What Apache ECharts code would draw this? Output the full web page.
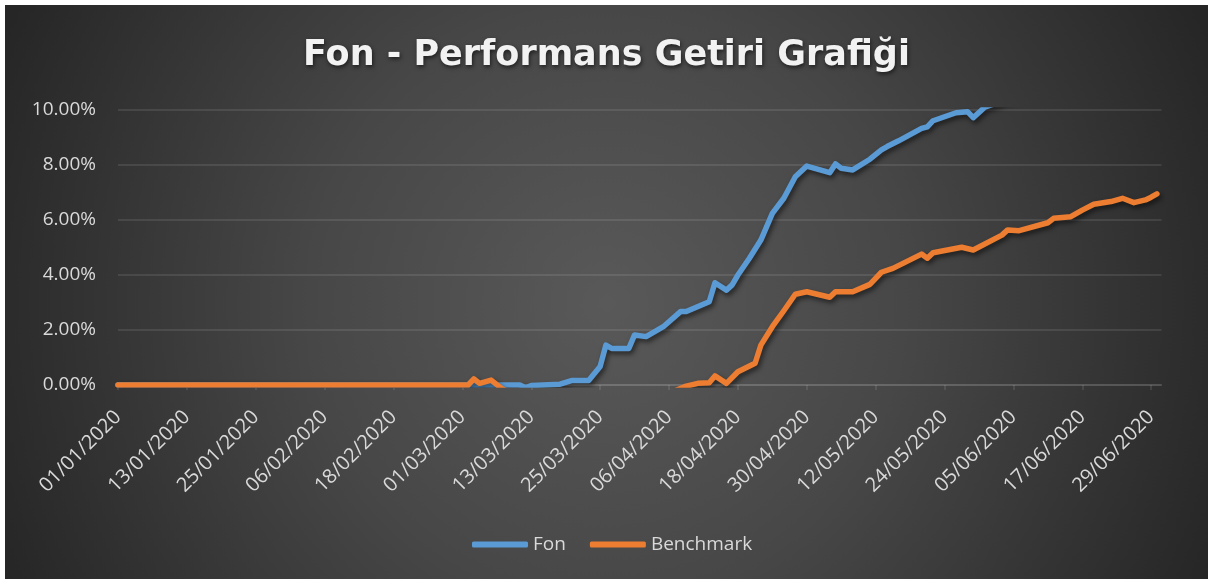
<!DOCTYPE html>
<html>
<head>
<meta charset="utf-8">
<script src="https://cdn.jsdelivr.net/npm/echarts@6/dist/echarts.min.js"></script>
<style>
    html, body { margin: 0; padding: 0; background: #ffffff; }
    #chart {
        position: absolute;
        left: 5px;
        top: 5px;
        width: 1203px;
        height: 574px;
        background: radial-gradient(circle 660px at 50% 52%, #595959 0%, #474747 45%, #262626 100%);
    }
</style>
</head>
<body>
<div id="chart"></div>
<script>
// x ekseni etiketleri (her 12 gunde bir)
var tickLabels = ['01/01/2020', '13/01/2020', '25/01/2020', '06/02/2020', '18/02/2020', '01/03/2020',
    '13/03/2020', '25/03/2020', '06/04/2020', '18/04/2020', '30/04/2020', '12/05/2020',
    '24/05/2020', '05/06/2020', '17/06/2020', '29/06/2020'];

// Fon getirisi (%)
var fonDates = ['01/01', '08/03', '11/03', '12/03', '13/03', '18/03', '20/03', '23/03', '25/03', '26/03',
    '27/03', '30/03', '31/03', '02/04', '05/04', '08/04', '09/04', '13/04', '14/04', '16/04',
    '17/04', '18/04', '20/04', '22/04', '24/04', '26/04', '28/04', '30/04', '04/05', '05/05',
    '06/05', '08/05', '11/05', '13/05', '14/05', '16/05', '20/05', '21/05', '22/05', '26/05',
    '28/05', '29/05', '31/05', '04/06', '11/06', '19/06', '30/06'];
var fonValues = [0, 0, 0, -0.1, -0.02, 0.03, 0.16, 0.16, 0.67, 1.45,
    1.33, 1.33, 1.82, 1.76, 2.12, 2.67, 2.67, 3.03, 3.72, 3.45,
    3.64, 4.00, 4.61, 5.27, 6.24, 6.79, 7.57, 7.96, 7.72, 8.04,
    7.88, 7.82, 8.21, 8.55, 8.67, 8.88, 9.33, 9.39, 9.61, 9.90,
    9.94, 9.72, 10.10, 10.40, 10.70, 11.10, 11.60];

// Benchmark getirisi (%)
var benchDates = ['01/01', '02/03', '03/03', '04/03', '06/03', '08/03', '13/03', '21/03', '31/03', '06/04',
    '09/04', '11/04', '13/04', '14/04', '16/04', '18/04', '21/04', '22/04', '24/04', '26/04',
    '28/04', '30/04', '04/05', '05/05', '08/05', '11/05', '13/05', '15/05', '20/05', '21/05',
    '22/05', '27/05', '29/05', '03/06', '04/06', '06/06', '11/06', '12/06', '15/06', '17/06',
    '19/06', '22/06', '24/06', '26/06', '28/06', '29/06', '30/06'];
var benchValues = [0, 0, 0.22, 0.06, 0.18, -0.15, -0.6, -1.0, -0.7, -0.3,
    -0.04, 0.06, 0.08, 0.33, 0.06, 0.48, 0.79, 1.45, 2.12, 2.70,
    3.30, 3.39, 3.19, 3.39, 3.39, 3.66, 4.10, 4.24, 4.76, 4.61,
    4.81, 5.01, 4.91, 5.45, 5.64, 5.61, 5.90, 6.06, 6.12, 6.36,
    6.57, 6.67, 6.79, 6.63, 6.73, 6.83, 6.95];

// gun sayisi (01/01/2020 = 0)
function dayOf(s) {
    var p = s.split('/');
    return (Date.UTC(2020, Number(p[1]) - 1, Number(p[0])) - Date.UTC(2020, 0, 1)) / 86400000;
}
function pairs(dates, values) {
    return dates.map(function (d, i) { return [dayOf(d), values[i]]; });
}
var tickDays = tickLabels.map(function (t, i) { return i * 12; });

var labelColor = '#d9d9d9';
var gridColor = 'rgba(255,255,255,0.13)';
var lineShadow = {
    width: 5.5,
    cap: 'round',
    join: 'round',
    shadowColor: 'rgba(0,0,0,0.55)',
    shadowBlur: 5,
    shadowOffsetX: 2,
    shadowOffsetY: 3
};

var chart = echarts.init(document.getElementById('chart'));
var option = {
    animation: false,
    backgroundColor: 'transparent',
    title: {
        text: 'Fon - Performans Getiri Grafiği',
        left: 'center',
        top: 28,
        textStyle: {
            color: '#f2f2f2',
            fontFamily: 'DejaVu Sans',
            fontWeight: 'bold',
            fontSize: 35,
            textShadowColor: 'rgba(0,0,0,0.6)',
            textShadowBlur: 4,
            textShadowOffsetX: 1,
            textShadowOffsetY: 2
        }
    },
    legend: {
        left: 462,
        top: 525,
        icon: 'roundRect',
        itemWidth: 56,
        itemHeight: 6,
        itemGap: 24,
        textStyle: { color: labelColor, fontFamily: 'Open Sans', fontSize: 19 },
        data: ['Fon', 'Benchmark']
    },
    grid: {
        left: 113,
        right: 46.5,
        top: 105,
        bottom: 194,
        containLabel: false
    },
    xAxis: {
        type: 'value',
        min: 0,
        max: 181.8,
        interval: 12,
        splitLine: { show: false },
        axisLine: { lineStyle: { color: gridColor, width: 1.5 } },
        axisTick: {
            show: true,
            length: 5,
            customValues: tickDays,
            lineStyle: { color: gridColor, width: 1.5 }
        },
        axisLabel: {
            customValues: tickDays,
            rotate: 45,
            margin: 29,
            color: labelColor,
            fontFamily: 'Open Sans',
            fontSize: 20,
            formatter: function (v) { return tickLabels[Math.round(v / 12)] || ''; }
        }
    },
    yAxis: {
        type: 'value',
        min: 0,
        max: 10,
        interval: 2,
        axisLine: { show: false },
        axisTick: { show: false },
        splitLine: { lineStyle: { color: gridColor, width: 1.5 } },
        axisLabel: {
            margin: 22,
            color: labelColor,
            fontFamily: 'Open Sans',
            fontSize: 19,
            formatter: function (v) { return v.toFixed(2) + '%'; }
        }
    },
    series: [
        {
            name: 'Fon',
            type: 'line',
            symbol: 'none',
            clip: true,
            color: '#5B9BD5',
            lineStyle: Object.assign({ color: '#5B9BD5' }, lineShadow),
            data: pairs(fonDates, fonValues)
        },
        {
            name: 'Benchmark',
            type: 'line',
            symbol: 'none',
            clip: true,
            color: '#ED7D31',
            lineStyle: Object.assign({ color: '#ED7D31' }, lineShadow),
            data: pairs(benchDates, benchValues)
        }
    ]
};
chart.setOption(option);
</script>
</body>
</html>
